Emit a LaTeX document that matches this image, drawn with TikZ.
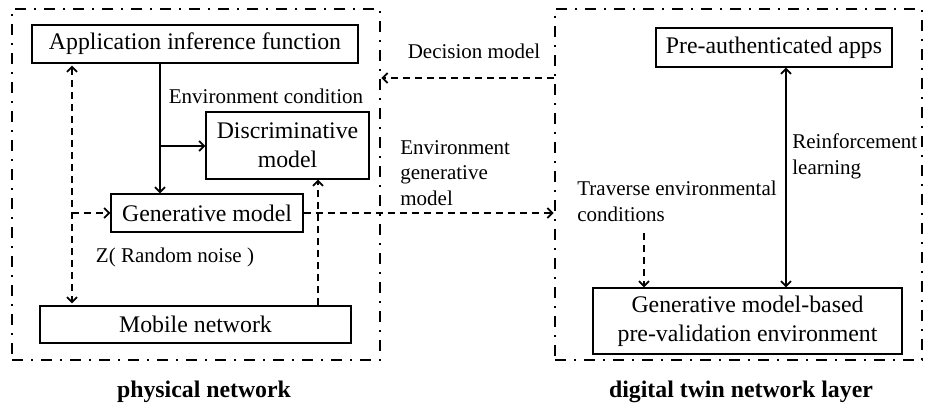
\documentclass[tikz,border=0pt]{standalone}
\usepackage{fontspec}
\setmainfont{Liberation Serif}
\usetikzlibrary{arrows.meta,fit}

\tikzset{
  every picture/.append style={x=0.5pt, y=-0.5pt, >={Straight Barb[length=2.5pt,width=5pt]}},
  box/.style={draw, line width=0.6pt, align=center, inner sep=0pt, font=\fontsize{11.9}{14.5}\selectfont},
  lbl/.style={align=left, inner sep=0pt, font=\fontsize{10.5}{12.8}\selectfont},
  netlayer/.style={draw, line width=1.4pt, dash pattern=on 5.5pt off 4pt on 1pt off 4pt, inner sep=0pt},
  flow/.style={->, line width=0.9pt},
  dflow/.style={->, line width=0.9pt, dash pattern=on 3.5pt off 2.5pt},
  layertitle/.style={inner sep=0pt, font=\fontsize{11.9}{14}\selectfont\bfseries}
}

\begin{document}
\begin{tikzpicture}
  \useasboundingbox (0,0) rectangle (928,408);
  % the two layers
  \node[netlayer, fit={(12,9) (380,360)}] (phys) {};
  \node[netlayer, fit={(555,9) (922,360)}] (twin) {};
  \node[layertitle] (physname) at(204,392){physical network};
  \node[layertitle] (twinname) at(741,392){digital twin network layer};
  % physical network
  \node[box, minimum width=163pt, minimum height=19pt] (app) at(195,44){Application inference function};
  \node[box, minimum width=81.5pt, minimum height=33.5pt] (disc) at(287.5,145.5){Discriminative\\model};
  \node[box, minimum width=96pt, minimum height=19pt] (gen) at(207,213){Generative model};
  \node[box, minimum width=155.5pt, minimum height=18.5pt] (mob) at(195.5,324.5){Mobile network};
  \node[lbl] (cond) at(266,96){Environment condition};
  \node[lbl] (noise) at(175,257){Z( Random noise )};
  % digital twin
  \node[box, minimum width=118pt, minimum height=19.5pt] (pre) at(774,47.5){Pre-authenticated apps};
  \node[box, minimum width=154.5pt, minimum height=33pt] (pv) at(747.5,321){Generative model-based\\pre-validation environment};
  \node[lbl, anchor=west] (reinf) at(792,156.5){Reinforcement\\learning};
  \node[lbl, anchor=west] (trav) at(577,201.5){Traverse environmental\\conditions};
  % between the layers
  \node[lbl] (decision) at(474,51){Decision model};
  \node[lbl, anchor=west] (envgen) at(400,173){Environment\\generative\\model};

  \coordinate (split) at(160,146);
  \coordinate (zin) at(72,213);
  \coordinate (dup) at(318,0);
  \coordinate (dec) at(0,78);
  \coordinate (rl) at(786,0);
  \coordinate (tv) at(644,233);

  \draw[flow] (app.south -| split) -- (gen.north -| split);
  \draw[flow] (split) -- (split -| disc.west);
  \draw[dflow, <->, shorten <=1pt, shorten >=1pt] (app.south -| zin) -- (mob.north -| zin);
  \draw[dflow] (zin) -- (gen.west);
  \draw[dflow] (mob.north -| dup) -- (disc.south -| dup);
  \draw[dflow] (gen.east) -- (gen.east -| twin.west);
  \draw[dflow] (twin.west |- dec) -- (phys.east |- dec);
  \draw[flow, <->] (pre.south -| rl) -- (pv.north -| rl);
  \draw[dflow] (tv) -- (pv.north -| tv);
\end{tikzpicture}
\end{document}
